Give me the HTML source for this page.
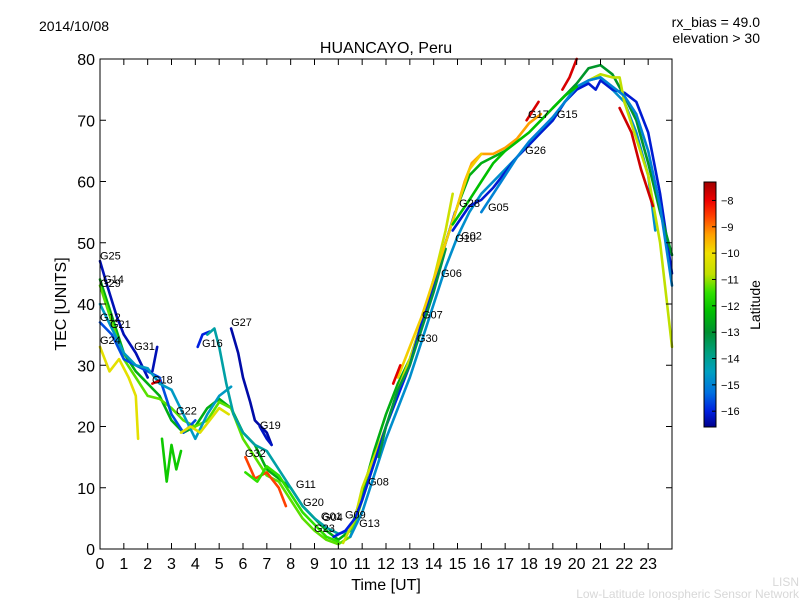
<!DOCTYPE html>
<html><head><meta charset="utf-8"><style>
body{margin:0;background:#fff;}
svg{display:block;font-family:"Liberation Sans","DejaVu Sans",sans-serif;}
</style></head><body>
<svg id="chart" width="800" height="600" viewBox="0 0 800 600">
<rect width="800" height="600" fill="#fff"/>
<text x="39" y="31" font-size="14">2014/10/08</text>
<text x="760" y="27" font-size="14" text-anchor="end">rx_bias = 49.0</text>
<text x="760" y="43" font-size="14" text-anchor="end">elevation &gt; 30</text>
<text x="386" y="53" font-size="16" text-anchor="middle">HUANCAYO, Peru</text>
<text x="386" y="590" font-size="16" text-anchor="middle">Time [UT]</text>
<text x="66" y="304" font-size="16" text-anchor="middle" transform="rotate(-90 66 304)">TEC [UNITS]</text>
<text x="799" y="586" font-size="12" fill="#d8d8d8" text-anchor="end">LISN</text>
<text x="799" y="598" font-size="12" fill="#d8d8d8" text-anchor="end">Low-Latitude Ionospheric Sensor Network</text>
<g id="plot"></g>
<g id="cbar"></g>
</svg>
<script>
const xTicks=[0,1,2,3,4,5,6,7,8,9,10,11,12,13,14,15,16,17,18,19,20,21,22,23];
const yTicks=[0,10,20,30,40,50,60,70,80];
const cbTicks=[-8,-9,-10,-11,-12,-13,-14,-15,-16];
const seriesLat=[-16.3,-12.5,-11.3,-15.6,-14.6,-10.2,-16.0,-14.2,-16.4,-16.2,-8.6,-11.5,-10.6,-16.0,-14.8,-9.3,-16.1,-7.8,-7.8,-12.9,-10.8,-7.7,-15.0,-10.3,-12.0,-7.9,-16.3,-13.2,-9.8,-12.2,-7.9];
const seriesPts=[
[[0,47],[0.3,43],[0.7,38],[1,35],[1.5,32],[2,28]],
[[0,44],[0.5,38],[1,32],[1.5,29],[2,27],[2.5,25],[3,21],[3.5,19],[4,20],[4.5,23],[5,24.5],[5.5,23],[6,19],[6.5,17],[7,13],[7.5,11.5],[8,10],[8.5,7],[9,5],[9.5,3],[10,1.5],[10.5,3],[11,9],[11.5,16],[12,22],[12.5,27],[13,31],[13.5,37],[14,44],[14.5,50],[15,56],[15.5,61],[16,63],[16.5,64],[17,65]],
[[0,43],[0.5,37],[1,31],[1.5,28],[2,25],[2.5,24.5],[3,23],[3.5,21],[4,20],[4.5,21],[5,24],[5.5,23],[6,18],[6.5,15],[7,12],[7.5,11],[8,8],[8.5,5],[9,3],[9.5,1.5],[10,0.8],[10.5,2],[11,8],[11.5,14],[12,20]],
[[0,37],[0.5,35],[1,31],[1.5,30],[2,29],[2.5,28],[3,22],[3.5,19],[4,21]],
[[0,40],[0.5,36],[1,32],[1.5,30],[2,29.5],[2.5,27],[3,26],[3.5,22],[4,18],[4.5,22],[5,25],[5.5,26.5]],
[[0,33],[0.4,29],[0.8,31],[1.2,28],[1.5,25],[1.6,18]],
[[4.1,33],[4.3,35],[4.6,35.5]],
[[4.5,35],[4.8,36],[5,33],[5.3,27],[5.6,22],[6,19],[6.5,17],[7,16],[7.5,13],[8,10],[8.5,7],[9,5],[9.5,3.5],[10,2.5],[10.5,3]],
[[5.5,36],[5.8,32],[6,28],[6.3,24],[6.5,21],[7,19],[7.2,17]],
[[6.7,20],[7,18],[7.2,17]],
[[6.1,15],[6.5,11.5],[7,12.5],[7.5,10],[7.8,7]],
[[6.1,12.5],[6.6,11],[7,13.5],[7.5,12],[8,9],[8.5,6],[9,4],[9.5,2],[10,1.2]],
[[10.2,1],[10.7,5],[11,10],[11.5,15],[12,20],[12.5,26],[13,31],[13.5,37],[14,44],[14.5,52],[14.8,58]],
[[9.8,2],[10.3,3],[10.7,5],[11,8],[11.5,14],[12,20],[12.5,25],[13,30],[13.5,37],[14,43],[14.5,50],[14.9,55]],
[[10.5,2],[11,6],[11.5,12],[12,18],[12.5,23],[13,28],[13.5,34],[14,40],[14.5,46],[15,51],[15.5,55],[16,58],[16.5,60],[17,62],[17.5,64],[18,66],[18.5,68],[19,70],[19.5,73],[20,75],[20.5,76.5],[21,77],[21.5,75],[22,73],[22.5,68],[23,61],[23.3,52]],
[[15,56],[15.3,60],[15.6,63],[16,64.5],[16.5,64.5],[17,65.5],[17.5,67],[18,69.5],[18.5,71]],
[[14.8,52],[15.5,56],[16,57],[16.5,59],[17,61.5],[17.5,64],[18,66],[18.5,68],[19,70],[19.5,73],[20,75],[20.5,76],[20.8,75],[21,76.5],[21.5,75],[22,74.5],[22.5,73],[23,68],[23.5,58],[24,45]],
[[17.9,70],[18.4,73]],
[[19.4,75],[19.7,77],[20,80]],
[[19,72],[19.5,74],[20,76],[20.5,78.5],[21,79],[21.5,77.5],[22,74],[22.5,70],[23,63],[23.5,55],[24,48]],
[[20.5,76.5],[21,77.5],[21.5,77],[21.8,77],[22,73],[22.5,67],[23,61],[23.5,50],[24,33]],
[[21.8,72],[22.3,68],[22.7,62],[23.2,56]],
[[16,55],[16.5,58],[17,61],[17.5,64],[18,66.5],[18.5,68.5],[19,70.5],[19.5,73],[20,75.5],[20.5,76.5],[21,77],[21.5,75.5],[22,74],[22.5,71],[23,65],[23.5,56],[24,43]],
[[3.4,19],[3.8,20],[4.2,19],[4.6,21],[5,23],[5.4,22]],
[[2.6,18],[2.8,11],[3,17],[3.2,13],[3.4,16]],
[[2.2,27],[2.5,27.5]],
[[2.2,29],[2.4,33]],
[[11.7,15],[12,20],[12.5,26],[13,30],[13.5,36],[14,42],[14.5,49]],
[[12.5,28],[13,33],[13.5,38],[14,44],[14.5,50],[15,56],[15.5,62],[16,64.5]],
[[14.8,53],[15.5,57],[16,60],[16.5,63],[17,65],[17.5,66.5],[18,68],[18.5,70],[19,72],[19.5,74],[20,75.5]],
[[12.3,27],[12.6,30]]
];
const labelNames=["G25","G14","G29","G12","G21","G24","G31","G18","G22","G16","G27","G19","G32","G11","G20","G01","G04","G09","G23","G13","G08","G30","G07","G06","G10","G02","G28","G05","G26","G17","G15"];
const labelHour=[0,0.13,0,0,0.42,0,1.43,2.18,3.19,4.28,5.5,6.71,6.08,8.22,8.52,9.27,9.32,10.28,8.98,10.87,11.25,13.3,13.51,14.31,14.9,15.15,15.07,16.28,17.84,17.96,19.17];
const labelTec=[47.3,43.4,42.8,37.2,36.1,33.5,32.5,27,22,33,36.4,19.6,15,10,7,4.7,4.6,5,2.8,3.6,10.4,33.8,37.6,44.4,50.1,50.5,55.8,55.2,64.5,70.4,70.4];

const NS="http://www.w3.org/2000/svg";
const L=100,R=672,T=59,B=549;
const xS=h=>L+(h/24)*(R-L);
const yS=v=>B-(v/80)*(B-T);
const cbT=182,cbB=427,cbMax=-7.3,cbMin=-16.6;
const cbY=v=>cbT+(cbMax-v)/(cbMax-cbMin)*(cbB-cbT);
const cmLat=[-16.6,-16.0,-15.3,-14.5,-13.8,-13.0,-12.2,-11.5,-10.8,-10.0,-9.3,-8.6,-8.0,-7.3];
const cmRGB=[[0,0,140],[0,32,224],[0,112,224],[0,160,192],[0,160,128],[0,144,48],[0,192,0],[48,224,0],[192,224,0],[240,224,0],[255,160,0],[255,64,0],[238,0,0],[160,0,0]];
function latColor(v){
 if(v<=cmLat[0])return `rgb(${cmRGB[0]})`;
 for(let i=1;i<cmLat.length;i++){
  if(v<=cmLat[i]){const f=(v-cmLat[i-1])/(cmLat[i]-cmLat[i-1]);
   const c=cmRGB[i-1].map((a,k)=>Math.round(a+(cmRGB[i][k]-a)*f));return `rgb(${c})`;}
 }
 return `rgb(${cmRGB[cmRGB.length-1]})`;
}
function mk(tag,attrs,parent){const e=document.createElementNS(NS,tag);for(const k in attrs)e.setAttribute(k,attrs[k]);parent.appendChild(e);return e;}
const plot=document.getElementById('plot');
const svg=document.getElementById('chart');
seriesPts.forEach((pts,i)=>{
 const p=mk('polyline',{points:pts.map(q=>xS(q[0]).toFixed(1)+','+yS(q[1]).toFixed(1)).join(' '),fill:'none',stroke:latColor(seriesLat[i]),'stroke-width':2.6,'stroke-linejoin':'round','stroke-linecap':'round'},plot);
 
 
});
labelNames.forEach((n,i)=>{
 const t=mk('text',{x:xS(labelHour[i]),y:yS(labelTec[i]),'font-size':11},plot);
 t.textContent=n;
 
 
});
const fr=mk('rect',{x:L,y:T,width:R-L,height:B-T,fill:'none',stroke:'#000','stroke-width':1},plot);


xTicks.forEach(h=>{
 const x=xS(h);
 mk('line',{x1:x,y1:B,x2:x,y2:B-6,stroke:'#000'},plot);
 mk('line',{x1:x,y1:T,x2:x,y2:T+6,stroke:'#000'},plot);
 const t=mk('text',{x:x,y:B+20,'font-size':16,'text-anchor':'middle'},plot);
 t.textContent=h;
 
 
});
yTicks.forEach(v=>{
 const y=yS(v);
 mk('line',{x1:L,y1:y,x2:L+6,y2:y,stroke:'#000'},plot);
 mk('line',{x1:R,y1:y,x2:R-6,y2:y,stroke:'#000'},plot);
 const t=mk('text',{x:L-5,y:y+6,'font-size':16,'text-anchor':'end'},plot);
 t.textContent=v;
 
 
});
const cb=document.getElementById('cbar');
const defs=mk('defs',{},svg);
const g=mk('linearGradient',{id:'cmg',x1:0,y1:1,x2:0,y2:0},defs);
cmLat.forEach((v,i)=>mk('stop',{offset:(v-cbMin)/(cbMax-cbMin),'stop-color':`rgb(${cmRGB[i]})`},g));
const cr=mk('rect',{x:704,y:cbT,width:12,height:cbB-cbT,fill:'url(#cmg)',stroke:'#000','stroke-width':1},cb);


cbTicks.forEach(v=>{
 const y=cbY(v);
 mk('line',{x1:712,y1:y,x2:716,y2:y,stroke:'#000'},cb);
 const t=mk('text',{x:721,y:y+4,'font-size':11},cb);
 t.textContent='\u2212'+Math.abs(v);
 
 
});
const lt=mk('text',{x:760,y:305,'font-size':14,'text-anchor':'middle',transform:'rotate(-90 760 305)'},cb);
lt.textContent='Latitude';


</script>
</body></html>
